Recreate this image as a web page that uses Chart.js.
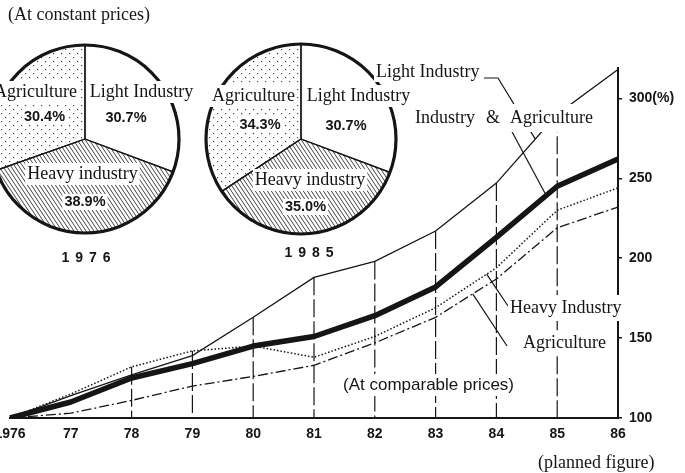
<!DOCTYPE html>
<html><head><meta charset="utf-8">
<script src="https://cdn.jsdelivr.net/npm/chart.js@4"></script>
<style>
html,body{margin:0;padding:0;background:#fff;}
#wrap{position:relative;width:685px;height:473px;overflow:hidden;background:#fff;}
#wrap canvas{position:absolute;left:0;top:0;}
</style></head><body>
<div id="wrap">
<canvas id="pie1" width="685" height="473"></canvas>
<canvas id="pie2" width="685" height="473"></canvas>
<canvas id="line" width="685" height="473"></canvas>
</div>
<script>
// ---------- data ----------
const years = ['1976','77','78','79','80','81','82','83','84','85','86'];
const lightIndustry       = [100,114,127,139,163,188,198,217,247,290,318];
const industryAgriculture = [100,110,125,134,145,151,164,182,213,245,262];
const heavyIndustry       = [100,115,132,142,145,138,151,169,194,230,244];
const agriculture         = [100,103,111,120,126,133,147,163,187,219,232];
const yTickValues = [100,150,200,250,300];

const pieLabels = ['Light Industry','Heavy industry','Agriculture'];
const pie1976 = [30.7, 38.9, 30.4];
const pie1985 = [30.7, 35.0, 34.3];

// ---------- styling helpers ----------
const INK = '#151515';
const SERIF = '"Liberation Serif", "DejaVu Serif", serif';
const SANS = '"Liberation Sans", Arial, sans-serif';

function makeHatch(){
  const c=document.createElement('canvas'); c.width=4; c.height=6;
  const g=c.getContext('2d'); g.strokeStyle='#222'; g.lineWidth=0.85;
  for (const o of [-4,0,4]) { g.beginPath(); g.moveTo(o-1,-1.5); g.lineTo(o+5,7.5); g.stroke(); }
  return g.createPattern(c,'repeat');
}
function makeDots(){
  const c=document.createElement('canvas'); c.width=8; c.height=8;
  const g=c.getContext('2d'); g.fillStyle='#444';
  g.fillRect(1,1,1.2,1.2); g.fillRect(5,5,1.2,1.2);
  return g.createPattern(c,'repeat');
}
const hatch = makeHatch();
const dots = makeDots();

function boxedText(ctx, text, x, y, font, align, padX, padY){
  ctx.save();
  ctx.font = font;
  const w = ctx.measureText(text).width;
  const left = align==='center' ? x - w/2 : x;
  ctx.fillStyle = '#fff';
  ctx.fillRect(left-padX, y-padY, w+2*padX, 2*padY);
  ctx.fillStyle = INK;
  ctx.textAlign = 'left';
  ctx.textBaseline = 'middle';
  ctx.fillText(text, left, y);
  ctx.restore();
}
function spacedText(ctx, text, cx, y, font, gap){
  ctx.save(); ctx.font=font; ctx.fillStyle=INK; ctx.textBaseline='middle'; ctx.textAlign='left';
  const ws=[...text].map(ch=>ctx.measureText(ch).width);
  const total=ws.reduce((a,b)=>a+b,0)+gap*(ws.length-1);
  let x=cx-total/2;
  [...text].forEach((ch,i)=>{ctx.fillText(ch,x,y); x+=ws[i]+gap;});
  ctx.restore();
}

// ---------- pies ----------
function makePie(id, values, center, radius, yearLabel, offsets){
  const W=685,H=473;
  const half = Math.min(center.x, 150);
  const padLeft = center.x - half, padRight = W - (center.x + half);
  const padTop = 0, padBottom = H - 2*center.y;
  const piePlugin = {
    id:'pieDeco'+id,
    afterDatasetsDraw(chart){
      const ctx=chart.ctx;
      const arc=chart.getDatasetMeta(0).data[0];
      const cx=arc.x, cy=arc.y, r=arc.outerRadius;
      ctx.save();
      ctx.lineWidth=3.2; ctx.strokeStyle=INK;
      ctx.beginPath(); ctx.arc(cx,cy,r,0,Math.PI*2); ctx.stroke();
      ctx.restore();
      const nameFont = '18px '+SERIF;
      const pctFont = 'bold 14.5px '+SANS;
      values.forEach((v,i)=>{
        const o=offsets[i];
        boxedText(ctx, pieLabels[i], cx+o.nx, cy+o.ny, nameFont, 'center', 2, 11);
        boxedText(ctx, v.toFixed(1)+'%', cx+o.px, cy+o.py, pctFont, 'center', 2, 8);
      });
      spacedText(ctx, yearLabel, cx+offsets.year.x, cy+offsets.year.y, 'bold 14px '+SANS, 6);
    }
  };
  return new Chart(document.getElementById(id), {
    type:'pie',
    data:{labels:pieLabels, datasets:[{
      data:values,
      backgroundColor:['#ffffff', hatch, dots],
      borderColor:INK, borderWidth:1.3, borderAlign:'center'
    }]},
    options:{
      responsive:false, animation:false, rotation:0, radius:radius,
      layout:{padding:{left:padLeft,right:padRight,top:padTop,bottom:padBottom}},
      plugins:{legend:{display:false}, tooltip:{enabled:false}}
    },
    plugins:[piePlugin]
  });
}

const off1976 = [
  {nx:56.5, ny:-47, px:41, py:-21},
  {nx:-2.5, ny:35, px:0, py:63},
  {nx:-49.5, ny:-47, px:-40.5, py:-22}
];
off1976.year={x:1, y:119};
const off1985 = [
  {nx:57.5, ny:-43, px:45, py:-13},
  {nx:9, ny:41, px:4.5, py:68},
  {nx:-47.5, ny:-43, px:-41, py:-14}
];
off1985.year={x:8, y:114};

makePie('pie1', pie1976, {x:85,y:139}, 94, '1976', off1976);
makePie('pie2', pie1985, {x:301,y:139}, 95, '1985', off1985);

// ---------- line chart ----------
function pointOn(chart, ds, f){
  const pts=chart.getDatasetMeta(ds).data;
  const i=Math.floor(f), t=f-i;
  const a=pts[i], b=pts[Math.min(i+1,pts.length-1)];
  return {x:a.x+(b.x-a.x)*t, y:a.y+(b.y-a.y)*t};
}

const decoPlugin = {
  id:'lineDeco',
  beforeDatasetsDraw(chart){
    const ctx=chart.ctx, xs=chart.scales.x, ys=chart.scales.y;
    ctx.save();
    ctx.strokeStyle=INK; ctx.lineWidth=1.2; ctx.setLineDash([18,4]);
    for(let i=2;i<=9;i++){
      const top=Math.max(lightIndustry[i],industryAgriculture[i],heavyIndustry[i],agriculture[i]);
      const x=xs.getPixelForValue(i);
      ctx.beginPath(); ctx.moveTo(x, ys.getPixelForValue(top)); ctx.lineTo(x, ys.getPixelForValue(100)); ctx.stroke();
    }
    ctx.restore();
  },
  afterDraw(chart){
    const ctx=chart.ctx;
    const f18='18px '+SERIF;
    // leader lines
    ctx.save(); ctx.strokeStyle=INK; ctx.lineWidth=1.2; ctx.setLineDash([]);
    const pL=pointOn(chart,0,8.64);
    ctx.beginPath(); ctx.moveTo(484,78); ctx.lineTo(498,78); ctx.lineTo(pL.x,pL.y); ctx.stroke();
    const pT=pointOn(chart,1,8.82);
    ctx.beginPath(); ctx.moveTo(510,128); ctx.lineTo(pT.x,pT.y); ctx.stroke();
    const pH=pointOn(chart,2,7.84);
    ctx.beginPath(); ctx.moveTo(pH.x,pH.y); ctx.lineTo(508,306); ctx.stroke();
    const pA=pointOn(chart,3,7.61);
    ctx.beginPath(); ctx.moveTo(pA.x,pA.y); ctx.lineTo(507,346); ctx.stroke();
    ctx.restore();
    // labels
    ctx.save();
    ctx.fillStyle='#fff'; ctx.fillRect(411,104,186,28);
    ctx.restore();
    boxedText(ctx,'Light Industry',376,72,f18,'left',2,10);
    boxedText(ctx,'Industry',415,118,f18,'left',0,10);
    boxedText(ctx,'&',486,118,f18,'left',0,10);
    boxedText(ctx,'Agriculture',510,118,f18,'left',0,10);
    boxedText(ctx,'Heavy Industry',510,308,f18,'left',2,13);
    boxedText(ctx,'Agriculture',523,343,f18,'left',2,12);
    boxedText(ctx,'(At comparable prices)',343,385,'17px '+SANS,'left',3,11);
    boxedText(ctx,'(planned figure)',538,463,f18,'left',0,10);
    boxedText(ctx,'(At constant prices)',8,15,f18,'left',0,10);
  }
};

new Chart(document.getElementById('line'), {
  type:'line',
  data:{labels:years, datasets:[
    {label:'Light Industry', data:lightIndustry, borderColor:INK, borderWidth:1.3, pointRadius:0, tension:0, fill:false},
    {label:'Industry & Agriculture', data:industryAgriculture, borderColor:INK, borderWidth:5.5, borderJoinStyle:'round', pointRadius:0, tension:0, fill:false},
    {label:'Heavy Industry', data:heavyIndustry, borderColor:INK, borderWidth:1.5, borderDash:[1.5,2], pointRadius:0, tension:0, fill:false},
    {label:'Agriculture', data:agriculture, borderColor:INK, borderWidth:1.3, borderDash:[10,3,2,3], pointRadius:0, tension:0, fill:false}
  ]},
  options:{
    responsive:false, animation:false,
    layout:{padding:{left:10, top:68, right:0, bottom:0}},
    plugins:{legend:{display:false}, tooltip:{enabled:false}},
    scales:{
      x:{
        type:'category', offset:false,
        grid:{display:false, drawTicks:false},
        border:{display:true, color:INK, width:2},
        ticks:{color:INK, font:{family:SANS, size:14, weight:'bold'}, padding:8, maxRotation:0, autoSkip:false},
        afterFit(s){ s.height=55; s.paddingLeft=0; s.paddingRight=0; }
      },
      y:{
        position:'right', min:100, max:319,
        afterBuildTicks(s){ s.ticks = yTickValues.map(v=>({value:v})); },
        grid:{drawOnChartArea:false, drawTicks:true, tickLength:4, color:INK, lineWidth:1.5},
        border:{display:true, color:INK, width:2},
        ticks:{color:INK, font:{family:SANS, size:14, weight:'bold'}, padding:7,
               callback:v=> v===300 ? '300(%)' : String(v)},
        afterFit(s){ s.width=67; s.paddingTop=0; s.paddingBottom=0; }
      }
    }
  },
  plugins:[decoPlugin]
});
</script>
</body></html>
